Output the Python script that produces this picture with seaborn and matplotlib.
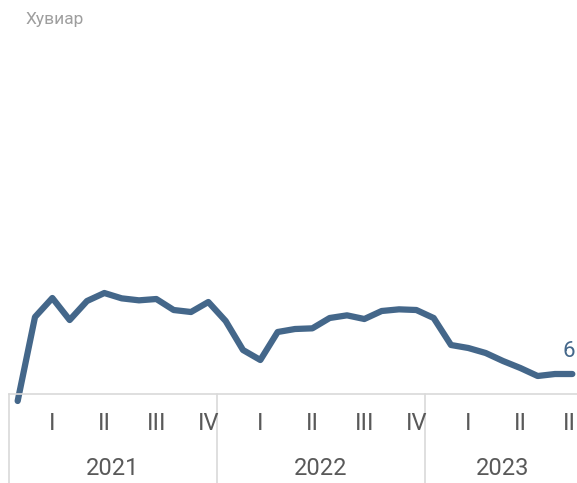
"""
Monthly percentage series, 2021 - 2023 (Jan 2021 .. Sep 2023).
Single line with quarter / year labels under the axis.
"""

import numpy as np
import pandas as pd
import matplotlib
matplotlib.use("Agg")
import matplotlib.pyplot as plt
import matplotlib.transforms as mtransforms
import seaborn as sns

# data (percent, monthly)
years = ["2021", "2022", "2023"]
quarters = ["I", "II", "III", "IV", "I", "II", "III", "IV", "I", "II", "III"]
values = [
    -2.1, 23.1, 28.8, 22.2, 27.9, 30.3, 28.7, 28.1, 28.5, 25.2, 24.6, 27.6,  # 2021
    21.9, 13.2, 10.2, 18.6, 19.5, 19.7, 22.8, 23.6, 22.5, 24.9, 25.4, 25.2,  # 2022
    22.8, 14.7, 13.8, 12.3, 9.9, 7.8, 5.4, 6.0, 6.0,                         # 2023
]
last_label = "6"
y_title = "Хувиар"

LINE_COLOR = "#44678a"
GRID_COLOR = "#d9d9d9"
TEXT_COLOR = "#595959"

sns.set_theme(style="white")
plt.rcParams["font.family"] = ["Roboto", "DejaVu Sans"]

df = pd.DataFrame({"month": np.arange(len(values)), "value": values})

W, H = 577, 483
fig = plt.figure(figsize=(W / 100, H / 100), dpi=100)

# plot area in pixels: x from 9 to 581 (right part clipped by the image), baseline y=394
ax_left, ax_right, ax_base, ax_top = 9, 581, 394, 30
ax = fig.add_axes([ax_left / W, (H - ax_base) / H,
                   (ax_right - ax_left) / W, (ax_base - ax_top) / H])

sns.lineplot(data=df, x="month", y="value", ax=ax, color=LINE_COLOR,
             linewidth=4.5, solid_capstyle="round", solid_joinstyle="round")
for ln in ax.get_lines():
    ln.set_clip_on(False)

ax.set_xlim(-0.5, 32.5)
ax.set_ylim(0, (ax_base - ax_top) / 3.333)
ax.set_xlabel("")
ax.set_ylabel("")
ax.set_xticks([])
ax.set_yticks([])
sns.despine(ax=ax, left=True, right=True, top=True, bottom=False)
ax.spines["bottom"].set_color(GRID_COLOR)
ax.spines["bottom"].set_linewidth(1.2)

# category area below the baseline
trans = mtransforms.blended_transform_factory(ax.transData, ax.transAxes)
ax_h = ax_base - ax_top
below = -(H - ax_base) / ax_h
for xb in [-0.5, 11.5, 23.5]:
    ax.plot([xb, xb], [0, below], transform=trans, color=GRID_COLOR,
            linewidth=1.2, clip_on=False)

q_months = [2 + 3 * i for i in range(len(quarters))]
for xm, q in zip(q_months, quarters):
    ax.text(xm, -(423.5 - ax_base) / ax_h, q, transform=trans, ha="center",
            va="center", fontsize=17, color=TEXT_COLOR, clip_on=False)

year_spans = [(-0.5, 11.5), (11.5, 23.5), (23.5, 32.5)]
for (a, b), yr in zip(year_spans, years):
    ax.text((a + b) / 2, -(468.5 - ax_base) / ax_h, yr, transform=trans,
            ha="center", va="center", fontsize=17, color=TEXT_COLOR, clip_on=False)

# label of the last value, kept inside the picture's right edge
ax.annotate(last_label, xy=(df["month"].iloc[-1], df["value"].iloc[-1]),
            xytext=(2.3, 16), textcoords="offset points", ha="right", va="center",
            fontsize=16, color=LINE_COLOR, annotation_clip=False)

fig.text(26 / W, 1 - 24 / H, y_title, ha="left", va="baseline",
         fontsize=12.5, color="#9e9e9e")

fig.savefig("out.png", dpi=100)
